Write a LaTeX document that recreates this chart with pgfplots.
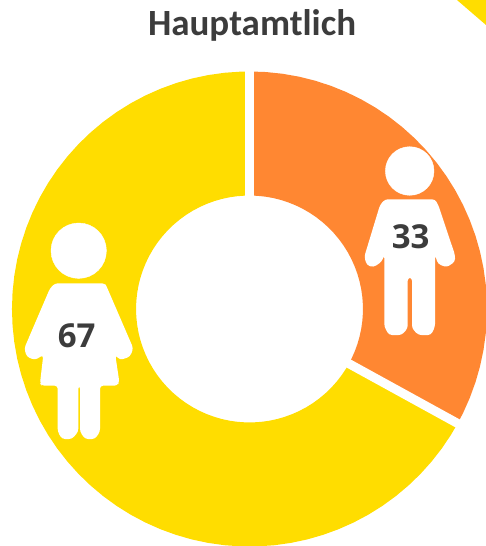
\documentclass[border=0pt]{standalone}
\usepackage{fontspec}
\setmainfont{Carlito}
\newfontfamily\numfont{Open Sans}
\usepackage{pgfplots}
\pgfplotsset{compat=1.18}
\usepgfplotslibrary{polar}
\definecolor{ringorange}{RGB}{255,135,50}
\definecolor{ringyellow}{RGB}{255,221,0}
\definecolor{labelgrey}{RGB}{60,60,60}
\pgfplotsset{
  canvas/.style={scale only axis, width=486pt, height=546pt, hide axis, axis equal=false, clip=true},
}
\begin{document}
\begin{tikzpicture}
% keep the full page, hide axis would shrink it to the ink
\path (0,0) rectangle (486pt,546pt);
% ring: origin at centre of the donut, angle/radius pairs, 33 % = 118.8 deg
\begin{axis}[canvas, at={(0,0)}, anchor=south west, xmin=-249.5, xmax=236.5, ymin=-237, ymax=309]
\addplot[data cs=polar, ringorange, line width=124pt, line cap=butt, line join=miter] coordinates {
(90,175.5)(86,175.5)(82,175.5)(78,175.5)(74,175.5)(70,175.5)(66,175.5)(62,175.5)(58,175.5)(54,175.5)
(50,175.5)(46,175.5)(42,175.5)(38,175.5)(34,175.5)(30,175.5)(26,175.5)(22,175.5)(18,175.5)(14,175.5)
(10,175.5)(6,175.5)(2,175.5)(-2,175.5)(-6,175.5)(-10,175.5)(-14,175.5)(-18,175.5)(-22,175.5)(-26,175.5)(-28.8,175.5)};
\addplot[data cs=polar, ringyellow, line width=124pt, line cap=butt, line join=miter] coordinates {
(-28.8,175.5)(-32,175.5)(-36,175.5)(-40,175.5)(-44,175.5)(-48,175.5)(-52,175.5)(-56,175.5)(-60,175.5)(-64,175.5)
(-68,175.5)(-72,175.5)(-76,175.5)(-80,175.5)(-84,175.5)(-88,175.5)(-92,175.5)(-96,175.5)(-100,175.5)(-104,175.5)
(-108,175.5)(-112,175.5)(-116,175.5)(-120,175.5)(-124,175.5)(-128,175.5)(-132,175.5)(-136,175.5)(-140,175.5)(-144,175.5)
(-148,175.5)(-152,175.5)(-156,175.5)(-160,175.5)(-164,175.5)(-168,175.5)(-172,175.5)(-176,175.5)(-180,175.5)(-184,175.5)
(-188,175.5)(-192,175.5)(-196,175.5)(-200,175.5)(-204,175.5)(-208,175.5)(-212,175.5)(-216,175.5)(-220,175.5)(-224,175.5)
(-228,175.5)(-232,175.5)(-236,175.5)(-240,175.5)(-244,175.5)(-248,175.5)(-252,175.5)(-256,175.5)(-260,175.5)(-264,175.5)(-268,175.5)(-270,175.5)};
% white gaps between the slices
\addplot[data cs=polar, white, line width=9pt] coordinates {(90,100)(90,250)};
\addplot[data cs=polar, white, line width=9pt] coordinates {(-28.8,100)(-28.8,250)};
\end{axis}
% figures and text: reference pixel coordinates
\begin{axis}[canvas, at={(0,0)}, anchor=south west, xmin=0, xmax=486, ymin=0, ymax=546, y dir=reverse]
% corner of the next chart
\addplot[ringyellow, fill=ringyellow, draw=none] coordinates {(457,0)(486,0)(486,25)} -- cycle;
% man
\addplot[only marks, mark=*, mark size=24.3pt, white, mark options={fill=white, draw=none}] coordinates {(409.7,171)};
\addplot[fill=white, draw=none, rounded corners=3pt] coordinates {
(385,199.3)(435,199.3)(438.3,205)(455,255)(455,261.7)(446.7,267.3)(438,264)(435,255)
(435,326.7)(431,335)(418.3,335)(412,328.3)(412,277.7)(407.7,277.7)(407.7,328.3)(401.7,335)(389,335)(384.3,326.7)
(384.3,255)(381.7,261.7)(373.3,267.3)(366.7,265)(364.3,256.7)(380,205)} -- cycle;
% woman
\addplot[only marks, mark=*, mark size=27.7pt, white, mark options={fill=white, draw=none}] coordinates {(78.7,250.7)};
\addplot[fill=white, draw=none, rounded corners=3pt] coordinates {
(55,283.3)(105,283.3)(106.7,286.7)(133.3,348.3)(130,356.7)(120,360)(115.3,355)
(119.3,381.7)(117.3,385.7)(100,385.7)(100,431.7)(95,439)(85,439)(80,431.7)(80,385.7)(78.3,385.7)(78.3,431.7)(72,439)(62,439)(57.7,431.7)(57.7,385.7)
(41.7,385.7)(40,383.3)(43.3,355)(35,360)(26.7,356.7)(24.3,348.3)(50,288.3)} -- cycle;
\node[font=\fontsize{37}{37}\selectfont\bfseries, text=labelgrey] at (axis cs:252,25) {Hauptamtlich};
\node[font=\numfont\fontsize{33}{33}\selectfont\bfseries, text=labelgrey] at (axis cs:410.7,237) {33};
\node[font=\numfont\fontsize{33}{33}\selectfont\bfseries, text=labelgrey] at (axis cs:76.7,336) {67};
\end{axis}
\end{tikzpicture}
\end{document}
